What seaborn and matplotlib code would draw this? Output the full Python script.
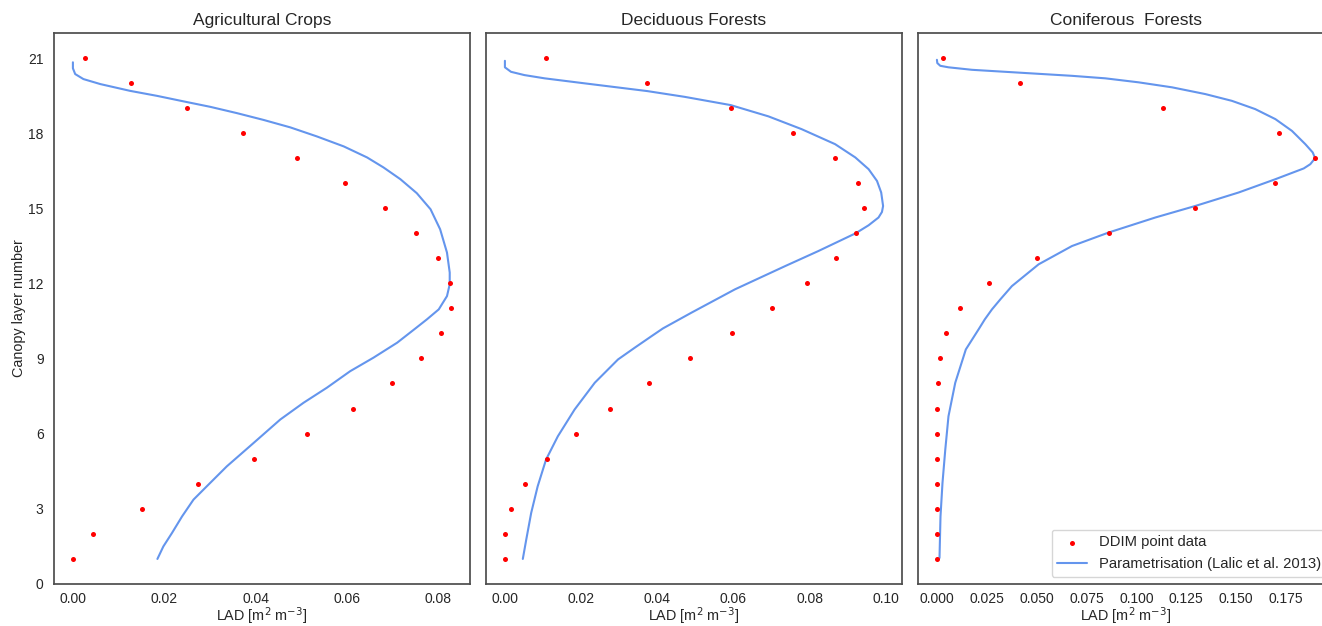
import numpy as np
import pandas as pd
import matplotlib
matplotlib.use("Agg")
import matplotlib.pyplot as plt
from matplotlib.ticker import MultipleLocator, FormatStrFormatter
import seaborn as sns

# ---------------- data ----------------
layers = list(range(1, 22))

titles = ["Agricultural Crops", "Deciduous Forests", "Coniferous  Forests"]

# DDIM point data (LAD per canopy layer 1..21)
ddim_crops = [0.0, 0.0043, 0.0151, 0.0274, 0.0397, 0.0512, 0.0614, 0.0699, 0.0763, 0.0807,
              0.0828, 0.0826, 0.0800, 0.0752, 0.0683, 0.0595, 0.0490, 0.0373, 0.0249, 0.0127, 0.0027]
ddim_deciduous = [0.0, 0.0001, 0.0017, 0.0054, 0.0110, 0.0187, 0.0277, 0.0378, 0.0487, 0.0596,
                  0.0700, 0.0793, 0.0869, 0.0921, 0.0943, 0.0926, 0.0866, 0.0757, 0.0593, 0.0374, 0.0108]
ddim_coniferous = [0.0, 0.0, 0.0, 0.0, 0.0, 0.0, 0.0, 0.0003, 0.0013, 0.0045,
                   0.0117, 0.0259, 0.0503, 0.0861, 0.1295, 0.1697, 0.1896, 0.1717, 0.1133, 0.0416, 0.0033]

# Parametrisation curves, heights in layer units
param_crops_z = [20.83, 20.59, 20.36, 20.16, 19.96, 19.69, 19.49, 19.27, 19.05, 18.80, 18.53,
                 18.23, 17.87, 17.47, 17.03, 16.63, 16.16, 15.60, 14.96, 14.16, 13.23, 12.43,
                 11.96, 11.49, 10.96, 10.56, 10.20, 9.63, 9.03, 8.49, 7.83, 7.23, 6.56, 5.63,
                 4.69, 3.89, 3.36, 2.69, 2.03, 1.49, 0.99]
param_crops_lad = [0.0, 0.0, 0.0005, 0.0023, 0.0060, 0.0125, 0.0184, 0.0242, 0.0301, 0.0359, 0.0417,
                   0.0476, 0.0534, 0.0593, 0.0644, 0.0680, 0.0717, 0.0753, 0.0783, 0.0804, 0.0819, 0.0825,
                   0.0825, 0.0819, 0.0801, 0.0775, 0.0750, 0.0710, 0.0658, 0.0607, 0.0556, 0.0505, 0.0454, 0.0396,
                   0.0337, 0.0293, 0.0264, 0.0239, 0.0217, 0.0198, 0.0185]

param_decid_z = [20.89, 20.63, 20.45, 20.32, 20.19, 19.99, 19.68, 19.45, 19.12, 18.67, 18.16,
                 17.56, 17.03, 16.56, 16.09, 15.63, 15.09, 14.85, 14.63, 14.32, 14.00, 13.29,
                 12.69, 11.76, 10.83, 10.20, 9.89, 9.43, 8.96, 8.03, 6.96, 5.89, 4.96, 3.89,
                 2.83, 1.76, 0.99]
param_decid_lad = [0.0, 0.0, 0.0016, 0.0051, 0.0104, 0.0209, 0.0374, 0.0472, 0.0593, 0.0692, 0.0779,
                   0.0867, 0.0920, 0.0955, 0.0977, 0.0988, 0.0993, 0.0990, 0.0981, 0.0955, 0.0921, 0.0823,
                   0.0736, 0.0604, 0.0490, 0.0415, 0.0385, 0.0341, 0.0297, 0.0236, 0.0183, 0.0139, 0.0108, 0.0086,
                   0.0069, 0.0056, 0.0047]

param_conif_z = [20.93, 20.80, 20.69, 20.63, 20.53, 20.45, 20.37, 20.29, 20.19, 20.03, 19.83,
                 19.56, 19.29, 18.96, 18.56, 18.09, 17.56, 17.23, 17.00, 16.76, 16.59, 16.36,
                 16.16, 15.63, 15.09, 14.63, 14.03, 13.49, 12.76, 11.89, 11.36, 10.96, 10.56,
                 10.20, 9.36, 8.03, 6.69, 5.36, 4.03, 2.69, 1.03]
param_conif_lad = [0.0, 0.0002, 0.0017, 0.0058, 0.0176, 0.0343, 0.0510, 0.0677, 0.0844, 0.1011, 0.1179,
                   0.1346, 0.1479, 0.1596, 0.1697, 0.1780, 0.1847, 0.1884, 0.1896, 0.1872, 0.1839, 0.1763,
                   0.1697, 0.1513, 0.1295, 0.1095, 0.0861, 0.0677, 0.0510, 0.0376, 0.0318, 0.0276, 0.0240,
                   0.0212, 0.0145, 0.0092, 0.0058, 0.0042, 0.0028, 0.0018, 0.0013]

ddim_sets = [ddim_crops, ddim_deciduous, ddim_coniferous]
param_sets = [(param_crops_lad, param_crops_z), (param_decid_lad, param_decid_z), (param_conif_lad, param_conif_z)]

# ---------------- style ----------------
sns.set_theme(style="white", context="notebook")
plt.rcParams['font.family'] = ['Liberation Sans', 'DejaVu Sans']
plt.rcParams['xtick.labelsize'] = 10
plt.rcParams['ytick.labelsize'] = 10
plt.rcParams['axes.labelsize'] = 10.4
plt.rcParams['axes.titlesize'] = 12.5
plt.rcParams['legend.fontsize'] = 10.6
plt.rcParams['xtick.major.size'] = 0
plt.rcParams['ytick.major.size'] = 0
plt.rcParams['xtick.major.pad'] = 6.0
plt.rcParams['ytick.major.pad'] = 7.5
plt.rcParams['axes.edgecolor'] = '0.3'

W, H = 1322, 626
fig = plt.figure(figsize=(W / 100, H / 100), dpi=100)

ax_w = 416
bottom = (H - 584) / H
height = (584 - 33) / H
lefts = [54, 486, 918]

axes = []
for i, lx in enumerate(lefts):
    rect = [lx / W, bottom, ax_w / W, height]
    if i == 0:
        ax = fig.add_axes(rect)
    else:
        ax = fig.add_axes(rect, sharey=axes[0])
    axes.append(ax)

for i, ax in enumerate(axes):
    sns.scatterplot(x=ddim_sets[i], y=layers, color="red", s=13, linewidth=0,
                    ax=ax, label="DDIM point data", zorder=3)
    px, pz = param_sets[i]
    sns.lineplot(x=px, y=pz, sort=False, estimator=None, color="cornflowerblue",
                 linewidth=1.5, ax=ax, label="Parametrisation (Lalic et al. 2013)")
    ax.set_title(titles[i])
    ax.set_xlabel(r"LAD [m$^2$ m$^{-3}$]", labelpad=-0.6)
    if i == 0:
        ax.set_ylabel("Canopy layer number", labelpad=1.5)
    else:
        ax.set_ylabel("")
        ax.tick_params(axis="y", labelleft=False)
    if i < 2:
        ax.get_legend().remove()

axes[0].yaxis.set_major_locator(MultipleLocator(3))
axes[0].xaxis.set_major_locator(MultipleLocator(0.02))
axes[0].xaxis.set_major_formatter(FormatStrFormatter("%.2f"))
axes[1].xaxis.set_major_locator(MultipleLocator(0.02))
axes[1].xaxis.set_major_formatter(FormatStrFormatter("%.2f"))
axes[2].xaxis.set_major_locator(MultipleLocator(0.025))
axes[2].xaxis.set_major_formatter(FormatStrFormatter("%.3f"))

axes[2].legend(loc="lower right")

fig.savefig("out.png", dpi=100)
